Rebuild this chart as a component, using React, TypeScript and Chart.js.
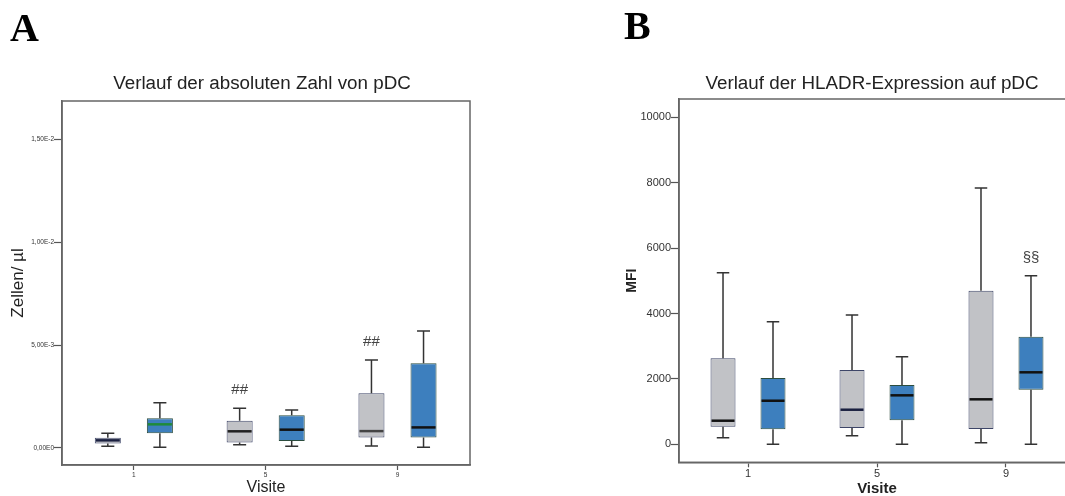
import React, { useEffect, useRef } from "react";
import { Chart, registerables } from "chart.js";
Chart.register(...registerables);

const FONT = "'Liberation Sans', Arial, sans-serif";

// Shared categories (visits)
const visits = [1, 5, 9];
const visitLabels = ["1", "5", "9"];

// Panel A: absolute pDC count (cells/µl) – grey group
const aGreyMin = [0.00007, 0.00015, 0.00008];
const aGreyQ1 = [0.00021, 0.00026, 0.0005];
const aGreyMed = [0.00036, 0.0008, 0.00081];
const aGreyQ3 = [0.00049, 0.00131, 0.00265];
const aGreyMax = [0.0007, 0.00192, 0.00427];
const aGreyMarks = ["", "##", "##"];
// Panel A – blue group
const aBlueMin = [0.00003, 0.00007, 0.00003];
const aBlueQ1 = [0.0007, 0.00033, 0.0005];
const aBlueMed = [0.00114, 0.00088, 0.00099];
const aBlueQ3 = [0.00143, 0.00158, 0.00411];
const aBlueMax = [0.00219, 0.00184, 0.00568];
const aBlueMarks = ["", "", ""];
const aYTicks = [0, 0.005, 0.01, 0.015];
const aYTickLabels = ["0,00E0", "5,00E-3", "1,00E-2", "1,50E-2"];

// Panel B: HLADR expression (MFI) – grey group
const bGreyMin = [200, 263, 49];
const bGreyQ1 = [538, 498, 468];
const bGreyMed = [722, 1058, 1376];
const bGreyQ3 = [2630, 2272, 4697];
const bGreyMax = [5248, 3954, 7838];
const bGreyMarks = ["", "", ""];
// Panel B – blue group
const bBlueMin = [0, 0, 0];
const bBlueQ1 = [459, 734, 1670];
const bBlueMed = [1333, 1498, 2202];
const bBlueQ3 = [2028, 1813, 3291];
const bBlueMax = [3749, 2679, 5156];
const bBlueMarks = ["", "", "§§"];
const bYTicks = [0, 2000, 4000, 6000, 8000, 10000];
const bYTickLabels = ["0", "2000", "4000", "6000", "8000", "10000"];

const GREY_FILL = "#c1c2c6";
const GREY_BORDER = "#3e4668";
const BLUE_FILL = "#3d7fbe";
const BLUE_BORDER = "#2c4d3e";

type BoxStats = { min: number[]; med: number[]; max: number[]; marks: string[]; medColors: string[] };

function makeBoxPlugin(id: string, stats: BoxStats[], markSize: number) {
  return {
    id,
    afterDatasetsDraw(chart: any) {
      const ctx = chart.ctx;
      const ys = chart.scales.y;
      stats.forEach((s, d) => {
        const meta = chart.getDatasetMeta(d);
        const ds = chart.data.datasets[d];
        meta.data.forEach((bar: any, i: number) => {
          const { x, width } = bar.getProps(["x", "width"], true);
          const [q1, q3] = ds.data[i].y;
          const pMin = ys.getPixelForValue(s.min[i]);
          const pMax = ys.getPixelForValue(s.max[i]);
          const pQ1 = ys.getPixelForValue(q1);
          const pQ3 = ys.getPixelForValue(q3);
          const pMed = ys.getPixelForValue(s.med[i]);
          const cap = width * 0.5;
          ctx.save();
          ctx.strokeStyle = "#333";
          ctx.lineWidth = 1.5;
          ctx.beginPath();
          ctx.moveTo(x, pQ3);
          ctx.lineTo(x, pMax);
          ctx.moveTo(x - cap / 2, pMax);
          ctx.lineTo(x + cap / 2, pMax);
          ctx.moveTo(x, pQ1);
          ctx.lineTo(x, pMin);
          ctx.moveTo(x - cap / 2, pMin);
          ctx.lineTo(x + cap / 2, pMin);
          ctx.stroke();
          ctx.strokeStyle = s.medColors[i];
          ctx.lineWidth = 2.5;
          ctx.beginPath();
          ctx.moveTo(x - width / 2 + 1, pMed);
          ctx.lineTo(x + width / 2 - 1, pMed);
          ctx.stroke();
          if (s.marks[i]) {
            ctx.fillStyle = "#444";
            ctx.font = `${markSize}px ${FONT}`;
            ctx.textAlign = "center";
            ctx.textBaseline = "middle";
            ctx.fillText(s.marks[i], x, pMax - 18);
          }
          ctx.restore();
        });
      });
    },
  };
}

const framePlugin = {
  id: "frame",
  afterDraw(chart: any) {
    const { left, top, right, bottom } = chart.chartArea;
    const ctx = chart.ctx;
    ctx.save();
    ctx.strokeStyle = "#666";
    ctx.lineWidth = 1.5;
    ctx.strokeRect(left, top, right - left, bottom - top);
    ctx.restore();
  },
};

function boxData(q1: number[], q3: number[]) {
  return visits.map((v, i) => ({ x: v, y: [q1[i], q3[i]] }));
}

function useChart(ref: React.RefObject<HTMLCanvasElement | null>, build: () => any) {
  useEffect(() => {
    if (!ref.current) return;
    const chart = new Chart(ref.current, build());
    return () => chart.destroy();
  }, []);
}

export default function App() {
  const refA = useRef<HTMLCanvasElement>(null);
  const refB = useRef<HTMLCanvasElement>(null);

  useChart(refA, () => ({
    type: "bar",
    data: {
      datasets: [
        {
          data: boxData(aGreyQ1, aGreyQ3),
          backgroundColor: GREY_FILL,
          borderColor: GREY_BORDER,
          borderWidth: 1,
          borderSkipped: false,
        },
        {
          data: boxData(aBlueQ1, aBlueQ3),
          backgroundColor: BLUE_FILL,
          borderColor: BLUE_BORDER,
          borderWidth: 1,
          borderSkipped: false,
        },
      ],
    },
    options: {
      animation: false,
      responsive: false,
      devicePixelRatio: 1,
      categoryPercentage: 0.79,
      barPercentage: 0.5,
      layout: { padding: { left: 8, top: 101, right: 10, bottom: 0 } },
      plugins: { legend: { display: false }, tooltip: { enabled: false }, title: { display: false } },
      scales: {
        x: {
          type: "linear",
          offset: false,
          min: -1.18,
          max: 11.2,
          afterBuildTicks: (s: any) => {
            s.ticks = visits.map((v) => ({ value: v }));
          },
          ticks: {
            callback: (v: number) => visitLabels[visits.indexOf(v)],
            font: { size: 6.5, family: FONT },
            color: "#333",
            padding: 1,
            maxRotation: 0,
            autoSkip: false,
          },
          grid: { offset: false, drawOnChartArea: false, tickLength: 5, color: "#555", tickWidth: 1.2 },
          border: { color: "#666", width: 1.5 },
          title: { display: true, text: "Visite", font: { size: 16, family: FONT, lineHeight: 1 }, color: "#222", padding: 0 },
          afterFit: (s: any) => {
            s.height = 31;
          },
        },
        y: {
          min: -0.00084,
          max: 0.01688,
          afterBuildTicks: (s: any) => {
            s.ticks = aYTicks.map((v) => ({ value: v }));
          },
          ticks: {
            callback: (v: number) => aYTickLabels[aYTicks.indexOf(v)],
            font: { size: 6.5, family: FONT },
            color: "#333",
            padding: 0,
          },
          grid: { drawOnChartArea: false, tickLength: 8, color: "#555", tickWidth: 1.2 },
          border: { color: "#666", width: 1.5 },
          title: { display: true, text: "Zellen/ µl", font: { size: 17, family: FONT }, color: "#222", padding: 0 },
          afterFit: (s: any) => {
            s.width = 54;
          },
        },
      },
    },
    plugins: [
      makeBoxPlugin(
        "boxA",
        [
          { min: aGreyMin, med: aGreyMed, max: aGreyMax, marks: aGreyMarks, medColors: ["#1a2040", "#222", "#444"] },
          { min: aBlueMin, med: aBlueMed, max: aBlueMax, marks: aBlueMarks, medColors: ["#1f8a3a", "#111", "#111"] },
        ],
        15
      ),
      framePlugin,
    ],
  }));

  useChart(refB, () => ({
    type: "bar",
    data: {
      datasets: [
        {
          data: boxData(bGreyQ1, bGreyQ3),
          backgroundColor: GREY_FILL,
          borderColor: GREY_BORDER,
          borderWidth: 1,
          borderSkipped: false,
        },
        {
          data: boxData(bBlueQ1, bBlueQ3),
          backgroundColor: BLUE_FILL,
          borderColor: BLUE_BORDER,
          borderWidth: 1,
          borderSkipped: false,
        },
      ],
    },
    options: {
      animation: false,
      responsive: false,
      devicePixelRatio: 1,
      categoryPercentage: 0.775,
      barPercentage: 0.5,
      layout: { padding: { left: 24, top: 99, right: 15, bottom: 0 } },
      plugins: { legend: { display: false }, tooltip: { enabled: false }, title: { display: false } },
      scales: {
        x: {
          type: "linear",
          offset: false,
          min: -1.14,
          max: 11.14,
          afterBuildTicks: (s: any) => {
            s.ticks = visits.map((v) => ({ value: v }));
          },
          ticks: {
            callback: (v: number) => visitLabels[visits.indexOf(v)],
            font: { size: 11, family: FONT },
            color: "#333",
            padding: 0,
            maxRotation: 0,
            autoSkip: false,
          },
          grid: { offset: false, drawOnChartArea: false, tickLength: 5, color: "#555", tickWidth: 1.2 },
          border: { color: "#666", width: 1.5 },
          title: { display: true, text: "Visite", font: { size: 15, weight: "bold", family: FONT, lineHeight: 1 }, color: "#222", padding: 0 },
          afterFit: (s: any) => {
            s.height = 33.7;
          },
        },
        y: {
          min: -550,
          max: 10560,
          afterBuildTicks: (s: any) => {
            s.ticks = bYTicks.map((v) => ({ value: v }));
          },
          ticks: {
            callback: (v: number) => bYTickLabels[bYTicks.indexOf(v)],
            font: { size: 11, family: FONT },
            color: "#333",
            padding: 0,
          },
          grid: { drawOnChartArea: false, tickLength: 8, color: "#555", tickWidth: 1.2 },
          border: { color: "#666", width: 1.5 },
          title: { display: true, text: "MFI", font: { size: 14, weight: "bold", family: FONT }, color: "#222", padding: 0 },
          afterFit: (s: any) => {
            s.width = 55;
          },
        },
      },
    },
    plugins: [
      makeBoxPlugin(
        "boxB",
        [
          { min: bGreyMin, med: bGreyMed, max: bGreyMax, marks: bGreyMarks, medColors: ["#111", "#1a2040", "#111"] },
          { min: bBlueMin, med: bBlueMed, max: bBlueMax, marks: bBlueMarks, medColors: ["#111", "#111", "#111"] },
        ],
        15
      ),
      framePlugin,
    ],
  }));

  const letter: React.CSSProperties = {
    position: "absolute",
    fontFamily: "'Liberation Serif', 'Times New Roman', serif",
    fontWeight: "bold",
    fontSize: 40,
    lineHeight: 1,
    color: "#000",
  };
  const title: React.CSSProperties = {
    position: "absolute",
    fontFamily: FONT,
    fontSize: 18.8,
    lineHeight: 1,
    color: "#222",
    whiteSpace: "nowrap",
    transform: "translateX(-50%)",
  };

  return (
    <div
      style={{
        position: "fixed",
        left: 0,
        top: 0,
        width: 1065,
        height: 496,
        overflow: "hidden",
        background: "#fff",
      }}
    >
      <canvas ref={refA} width={480} height={496} style={{ position: "absolute", left: 0, top: 0 }} />
      <canvas ref={refB} width={490} height={496} style={{ position: "absolute", left: 600, top: 0 }} />
      <div style={{ ...letter, left: 10, top: 8 }}>A</div>
      <div style={{ ...letter, left: 624, top: 6 }}>B</div>
      <div style={{ ...title, left: 262, top: 73.5 }}>Verlauf der absoluten Zahl von pDC</div>
      <div style={{ ...title, left: 872, top: 73.5 }}>Verlauf der HLADR-Expression auf pDC</div>
    </div>
  );
}
